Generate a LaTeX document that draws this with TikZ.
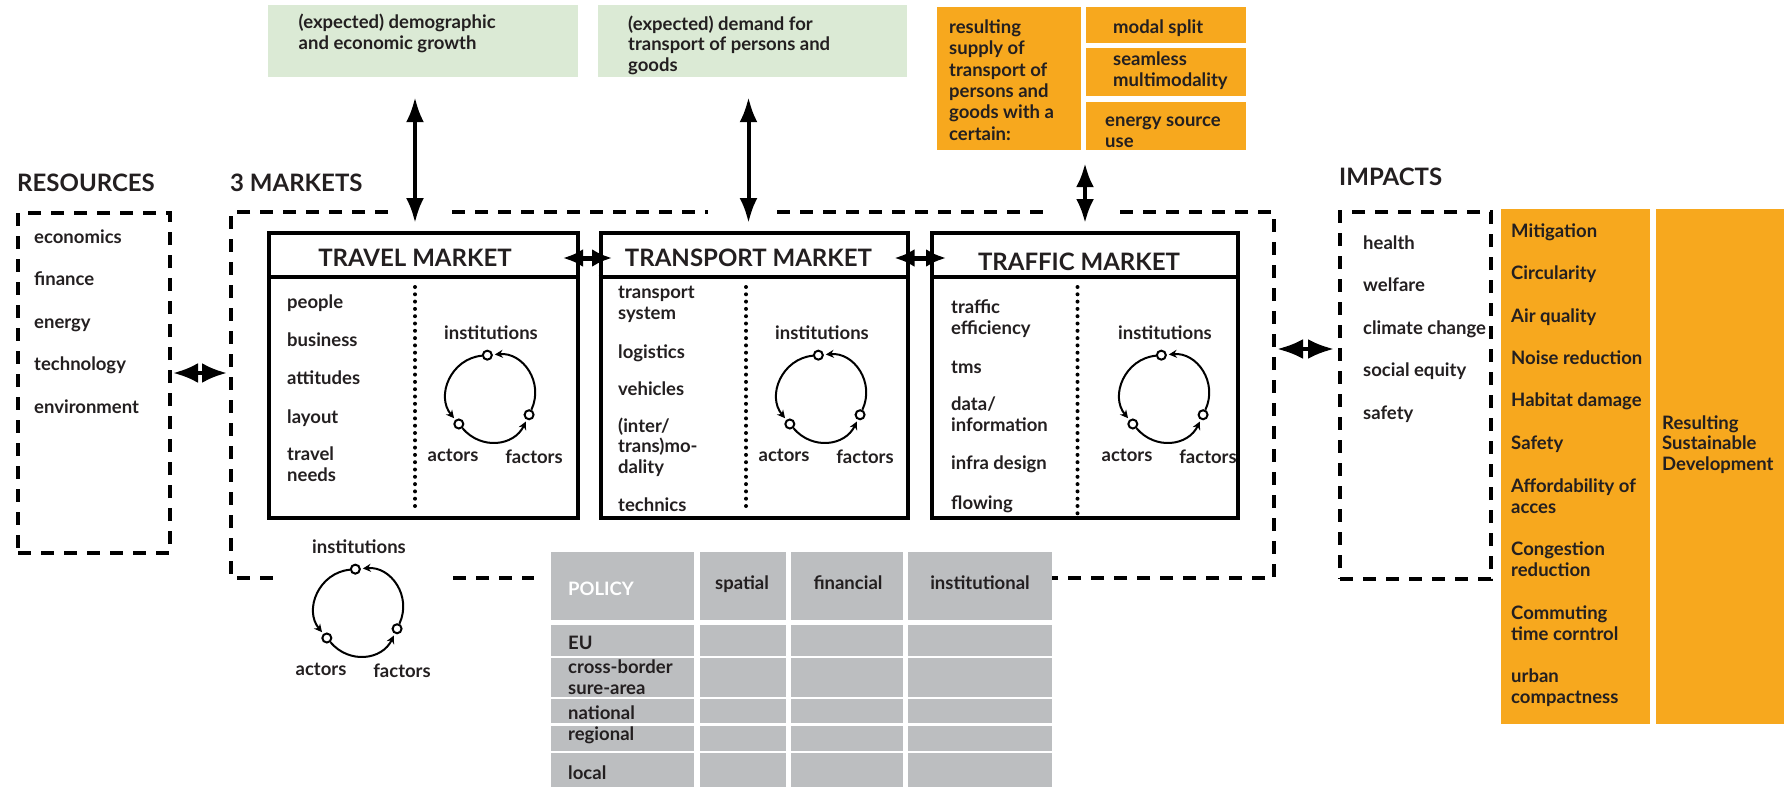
\documentclass[tikz,border=0pt]{standalone}
\usepackage{fontspec}
\setmainfont{Lato}
\usetikzlibrary{arrows.meta}

\definecolor{ink}{RGB}{35,31,32}
\definecolor{growthgreen}{RGB}{219,234,213}
\definecolor{supplyorange}{RGB}{247,168,30}
\definecolor{policygray}{RGB}{188,190,192}

% institutions / actors / factors loop, #1 centre, #2 name
\newcommand{\actorcycle}[2]{%
  \begin{scope}[shift={(#1)}]
    \node[ring] (#2-inst) at (-95:42) {};
    \node[ring] (#2-act) at (140:42) {};
    \node[ring] (#2-fac) at (25:42) {};
    \draw[cyc] (#2-inst) to[bend right=62] (#2-act);
    \draw[cyc] (#2-act) to[bend right=57] (#2-fac);
    \draw[cyc] (#2-fac) to[bend right=60] (#2-inst);
    \node[word] (#2-instlabel) at (0,-64) {institutions};
    \node[word] (#2-actlabel) at (-38,58) {actors};
    \node[word] (#2-faclabel) at (43,60) {factors};
  \end{scope}}

\begin{document}
\begin{tikzpicture}[x=1pt, y=-1pt,
    every node/.style = {inner sep = 0pt, text = ink, font = \bfseries\fontsize{18.5}{20.5}\selectfont},
    item/.style = {anchor = mid west, align = left, yshift = -3.5pt},
    word/.style = {anchor = mid, yshift = -3.5pt},
    title/.style = {font = \bfseries\fontsize{24}{26}\selectfont},
    market/.style = {draw = black, line width = 4pt, minimum height = 285pt},
    dashbox/.style = {draw = black, line width = 4pt, dash pattern = on 13pt off 10pt},
    divider/.style = {line width = 4pt, line cap = round, dash pattern = on 0pt off 7.3pt},
    ring/.style = {draw = black, shape = circle, fill = white, line width = 2pt, minimum size = 9pt},
    cyc/.style = {line width = 2pt, -{Stealth[length=8pt,width=8pt]}, shorten > = 2pt, looseness = 1.15},
    bigarrow/.style = {line width = 4pt, <->, > = {Latex[length=25pt,width=18pt]}},
    midarrow/.style = {line width = 5pt, <->, > = {Latex[length=20pt,width=18pt]}},
    greenbox/.style = {fill = growthgreen},
    orangebox/.style = {fill = supplyorange}]
    \useasboundingbox (0,0) rectangle (1784,787);

    % headings
    \node[title, anchor = west] (resources-head) at (17,183) {RESOURCES};
    \node[title, anchor = west] (markets-head) at (230,183) {3 MARKETS};
    \node[title, anchor = west] (impacts-head) at (1339,177) {IMPACTS};

    % boxes on top (multi-line texts sit on their last line)
    \node[greenbox, minimum width = 310pt, minimum height = 72pt] (growth) at (423,41) {};
    \node[item] (growth-text) at (298.5,43) {(expected) demographic\\and economic growth};
    \node[greenbox, minimum width = 309pt, minimum height = 72pt] (demand) at (752.5,41) {};
    \node[item] (demand-text) at (628,65) {(expected) demand for\\transport of persons and\\goods};

    \node[orangebox, minimum width = 144pt, minimum height = 143pt] (supply) at (1009,78.5) {};
    \node[item, font = \bfseries\fontsize{18.5}{21.3}\selectfont] (supply-text) at (949,134) {resulting\\supply of\\transport of\\persons and\\goods with a\\certain:};
    \node[orangebox, minimum width = 160pt, minimum height = 36pt] (split) at (1166,25) {};
    \node[item] (split-text) at (1113,27) {modal split};
    \node[orangebox, minimum width = 160pt, minimum height = 48pt] (seamless) at (1166,72) {};
    \node[item] (seamless-text) at (1113,80) {seamless\\multimodality};
    \node[orangebox, minimum width = 160pt, minimum height = 48pt] (energy) at (1166,126) {};
    \node[item] (energy-text) at (1105,141) {energy source\\use};

    % resources
    \node[dashbox, minimum width = 152pt, minimum height = 340pt] (res) at (94,383) {};
    \node[item] (economics) at (34,237) {economics};
    \node[item] (finance) at (34,279) {finance};
    \node[item] (energy-res) at (34,322) {energy};
    \node[item] (technology) at (34,364) {technology};
    \node[item] (environment) at (34,407) {environment};

    % outline round the three markets
    \coordinate (mk-w) at (231,373);
    \coordinate (mk-e) at (1274,349);
    \draw[dashbox] (388,212) -| (231,578) -- (277,578);
    \draw[dashbox] (452,212) -- (708,212);
    \draw[dashbox] (777,212) -- (1052,212);
    \draw[dashbox] (1120,212) -| (1274,578) -- (1052,578);
    \draw[dashbox] (453,578) -- (534,578);

    % the markets
    \coordinate (hdr) at (0,277);
    \node[market, minimum width = 309pt] (travel) at (423.5,375.5) {};
    \node[market, minimum width = 307pt] (transport) at (754,375.5) {};
    \node[market, minimum width = 306pt] (traffic) at (1085,375.5) {};
    \draw[line width = 4pt] (travel.west |- hdr) -- (travel.east |- hdr);
    \draw[line width = 4pt] (transport.west |- hdr) -- (transport.east |- hdr);
    \draw[line width = 4pt] (traffic.west |- hdr) -- (traffic.east |- hdr);
    \node[title] (travel-title) at (415,258) {TRAVEL MARKET};
    \node[title] (transport-title) at (748.5,258) {TRANSPORT MARKET};
    \node[title] (traffic-title) at (1079,262) {TRAFFIC MARKET};
    \draw[divider] (415,287) -- (415,511);
    \draw[divider] (746,287) -- (746,511);
    \draw[divider] (1077.5,287) -- (1077.5,518);

    \node[item] (people) at (287,302) {people};
    \node[item] (business) at (287,340) {business};
    \node[item] (attitudes) at (287,378) {attitudes};
    \node[item] (layout) at (287,417) {layout};
    \node[item] (needs) at (287,475) {travel\\needs};

    \node[item] (system) at (618,313) {transport\\system};
    \node[item] (logistics) at (618,352) {logistics};
    \node[item] (vehicles) at (618,389) {vehicles};
    \node[item] (modality) at (618,467) {(inter/\\trans)mo-\\dality};
    \node[item] (technics) at (618,505) {technics};

    \node[item] (efficiency) at (951,328) {traffic\\efficiency};
    \node[item] (tms) at (951,367) {tms};
    \node[item] (data) at (951,425) {data/\\information};
    \node[item] (infra) at (951,463) {infra design};
    \node[item] (flowing) at (951,503) {flowing};

    \actorcycle{491,397}{travelloop}
    \actorcycle{822,397}{transportloop}
    \actorcycle{1165,397}{trafficloop}
    \actorcycle{359,611}{outerloop}

    % arrows
    \draw[bigarrow, shorten < = 20pt, shorten > = 8pt] (growth.south -| travel-title) -- (travel.north -| travel-title);
    \draw[bigarrow, shorten < = 20pt, shorten > = 8pt] (demand.south -| transport-title) -- (transport.north -| transport-title);
    \draw[bigarrow, > = {Latex[length=24pt,width=18pt]}, shorten < = 13pt, shorten > = 8pt] (supply.south -| traffic.north) -- (traffic.north);
    \draw[midarrow, shorten < = -17pt, shorten > = -13.5pt] (travel.east |- travel-title) -- (transport.west |- travel-title);
    \draw[midarrow, shorten < = -15pt, shorten > = -16pt] (transport.east |- travel-title) -- (traffic.west |- travel-title);
    \draw[bigarrow, > = {Latex[length=25pt,width=20pt]}, shorten < = 1pt, shorten > = 4pt] ([yshift=10pt]res.east) -- (mk-w);

    % policy table
    \foreach \xl/\xr in {551/694, 700/786, 791/903, 908/1052}
        \foreach \yt/\yb in {552/620, 625/656, 658/697, 699/723, 726/751, 753/787}
            \fill[policygray] (\xl,\yt) rectangle (\xr,\yb);
    \node[item, text = white] (policy) at (568,589) {POLICY};
    \node[word] (spatial) at (742,583) {spatial};
    \node[word] (financial) at (848,583) {financial};
    \node[word] (institutional) at (980,583) {institutional};
    \node[item] (eu) at (568,643) {EU};
    \node[item] (crossborder) at (568,688) {cross-border\\sure-area};
    \node[item] (national) at (568,713) {national};
    \node[item] (regional) at (568,734) {regional};
    \node[item] (local) at (568,773) {local};

    % impacts
    \node[dashbox, minimum width = 151pt, minimum height = 367pt] (impacts) at (1415.5,395.5) {};
    \draw[bigarrow, > = {Latex[length=26pt,width=20pt]}, shorten < = 3pt, shorten > = 4pt] (mk-e) -- (impacts.west |- mk-e);
    \node[item] (health) at (1363,243) {health};
    \node[item] (welfare) at (1363,285) {welfare};
    \node[item] (climate) at (1363,328) {climate change};
    \node[item] (equity) at (1363,370) {social equity};
    \node[item] (safety-imp) at (1363,413) {safety};

    \node[orangebox, minimum width = 149pt, minimum height = 515pt] (goals) at (1575.5,466.5) {};
    \node[orangebox, minimum width = 128pt, minimum height = 515pt] (sustainable) at (1720,466.5) {};
    \node[item] (mitigation) at (1511,231) {Mitigation};
    \node[item] (circularity) at (1511,273) {Circularity};
    \node[item] (air) at (1511,316) {Air quality};
    \node[item] (noise) at (1511,358) {Noise reduction};
    \node[item] (habitat) at (1511,400) {Habitat damage};
    \node[item] (safety-goal) at (1511,443) {Safety};
    \node[item] (afford) at (1511,507) {Affordability of\\acces};
    \node[item] (congestion) at (1511,570) {Congestion\\reduction};
    \node[item] (commuting) at (1511,634) {Commuting\\time corntrol};
    \node[item] (urban) at (1511,697) {urban\\compactness};
    \node[item] (sustainable-text) at (1662,464) {Resulting\\Sustainable\\Development};
\end{tikzpicture}
\end{document}
